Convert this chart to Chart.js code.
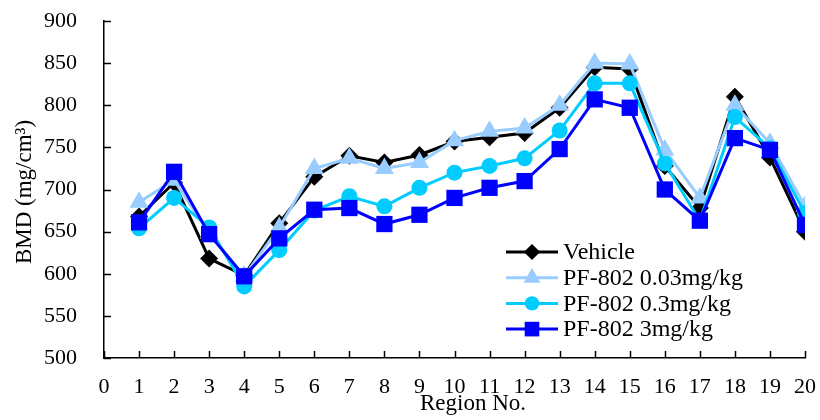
<!DOCTYPE html>
<html>
<head>
<meta charset="utf-8">
<script src="https://cdn.jsdelivr.net/npm/chart.js@4.4.1/dist/chart.umd.min.js"></script>
<style>
  html, body { margin: 0; padding: 0; background: #fff; }
  #wrap { width: 820px; height: 420px; }
</style>
</head>
<body>
<div id="wrap"><canvas id="bmdChart" width="820" height="420"></canvas></div>
<script>
// regiones 1..20
const regiones = [1, 2, 3, 4, 5, 6, 7, 8, 9, 10, 11, 12, 13, 14, 15, 16, 17, 18, 19, 20];
const vehicle = [668, 708, 618, 598, 660, 715, 740, 732, 741, 757, 762, 767, 797, 845, 843, 728, 678, 810, 738, 650];
const pf003 = [685, 711, 648, 597, 655, 725, 737, 725, 732, 758, 769, 773, 800, 850, 849, 747, 690, 800, 755, 680];
const pf03 = [654, 690, 655, 585, 628, 675, 692, 680, 702, 720, 728, 737, 770, 826, 826, 731, 663, 786, 749, 672];
const pf3 = [661, 721, 647, 597, 642, 676, 678, 659, 670, 690, 702, 710, 748, 807, 797, 700, 663, 761, 747, 658];
const xTicks = [0, 1, 2, 3, 4, 5, 6, 7, 8, 9, 10, 11, 12, 13, 14, 15, 16, 17, 18, 19, 20];
const yTicks = [500, 550, 600, 650, 700, 750, 800, 850, 900];
const etiquetas = ['Vehicle', 'PF-802 0.03mg/kg', 'PF-802 0.3mg/kg', 'PF-802 3mg/kg'];
const tituloX = 'Region No.';
const tituloY = 'BMD (mg/cm\u00B3)';

const FONT = '"Liberation Serif", "DejaVu Serif", serif';

function serie(label, data, color, style, radius, order) {
  return {
    label,
    data: regiones.map((r, i) => ({ x: r, y: data[i] })),
    borderColor: color,
    backgroundColor: color,
    borderWidth: 3,
    pointStyle: style,
    pointRadius: radius,
    pointHoverRadius: radius,
    pointBorderWidth: 0,
    order
  };
}

const datasets = [
  serie(etiquetas[0], vehicle, '#000000', 'rectRot', 9, 4),
  serie(etiquetas[1], pf003, '#99CCFF', 'triangle', 11, 3),
  serie(etiquetas[2], pf03, '#00CCFF', 'circle', 8, 2),
  serie(etiquetas[3], pf3, '#0000FF', 'rect', 11.5, 1)
];

// ticks hacia adentro, titulos y leyenda dentro del area
const extras = {
  id: 'extras',
  afterDraw(chart) {
    const ctx = chart.ctx;
    const xs = chart.scales.x, ys = chart.scales.y;
    const area = chart.chartArea;
    ctx.save();
    ctx.strokeStyle = '#000';
    ctx.lineWidth = 1.5;
    ctx.beginPath();
    xTicks.forEach(v => {
      const px = Math.round(xs.getPixelForValue(v)) + 0.5;
      ctx.moveTo(px, area.bottom);
      ctx.lineTo(px, area.bottom - 7);
    });
    yTicks.forEach(v => {
      const py = Math.round(ys.getPixelForValue(v)) + 0.5;
      ctx.moveTo(area.left, py);
      ctx.lineTo(area.left + 7, py);
    });
    ctx.stroke();

    // titulos
    ctx.fillStyle = '#000';
    ctx.font = '23px ' + FONT;
    ctx.textAlign = 'center';
    ctx.textBaseline = 'alphabetic';
    ctx.fillText(tituloX, 473, 410);
    ctx.save();
    ctx.translate(31, 192);
    ctx.rotate(-Math.PI / 2);
    ctx.fillText(tituloY, 0, 0);
    ctx.restore();

    // leyenda
    const x0 = 506, x1 = 558, y0 = 252, dy = 25.7;
    ctx.font = '24px ' + FONT;
    ctx.textBaseline = 'middle';
    ctx.textAlign = 'left';
    datasets.forEach((ds, i) => {
      const y = y0 + i * dy;
      ctx.strokeStyle = ds.borderColor;
      ctx.lineWidth = 3;
      ctx.beginPath();
      ctx.moveTo(x0, y);
      ctx.lineTo(x1, y);
      ctx.stroke();
      ctx.fillStyle = ds.backgroundColor;
      Chart.helpers.drawPoint(ctx, { pointStyle: ds.pointStyle, radius: ds.pointRadius * 0.9, borderWidth: 0 }, (x0 + x1) / 2, y);
      ctx.fillStyle = '#000';
      ctx.fillText(ds.label, 563, y + 1);
    });
    ctx.restore();
  }
};

new Chart(document.getElementById('bmdChart'), {
  type: 'line',
  data: { datasets },
  options: {
    responsive: false,
    animation: false,
    layout: { padding: { top: 21, right: 15, left: 0, bottom: 0 } },
    plugins: { legend: { display: false }, tooltip: { enabled: false } },
    scales: {
      x: {
        type: 'linear',
        min: 0,
        max: 20,
        afterBuildTicks: s => { s.ticks = xTicks.map(v => ({ value: v })); },
        afterFit: s => { s.height = 62; s.paddingLeft = 0; s.paddingRight = 0; },
        grid: { display: false, drawTicks: false },
        border: { display: true, color: '#000', width: 1.5 },
        ticks: { color: '#000', font: { family: FONT, size: 22 }, padding: 16, maxRotation: 0, autoSkip: false },
        title: { display: false }
      },
      y: {
        min: 500,
        max: 900,
        afterBuildTicks: s => { s.ticks = yTicks.map(v => ({ value: v })); },
        afterFit: s => { s.width = 104; s.paddingTop = 0; s.paddingBottom = 0; },
        grid: { display: false, drawTicks: false },
        border: { display: true, color: '#000', width: 1.5 },
        ticks: { color: '#000', font: { family: FONT, size: 22 }, padding: 27 },
        title: { display: false }
      }
    }
  },
  plugins: [extras]
});
</script>
</body>
</html>
